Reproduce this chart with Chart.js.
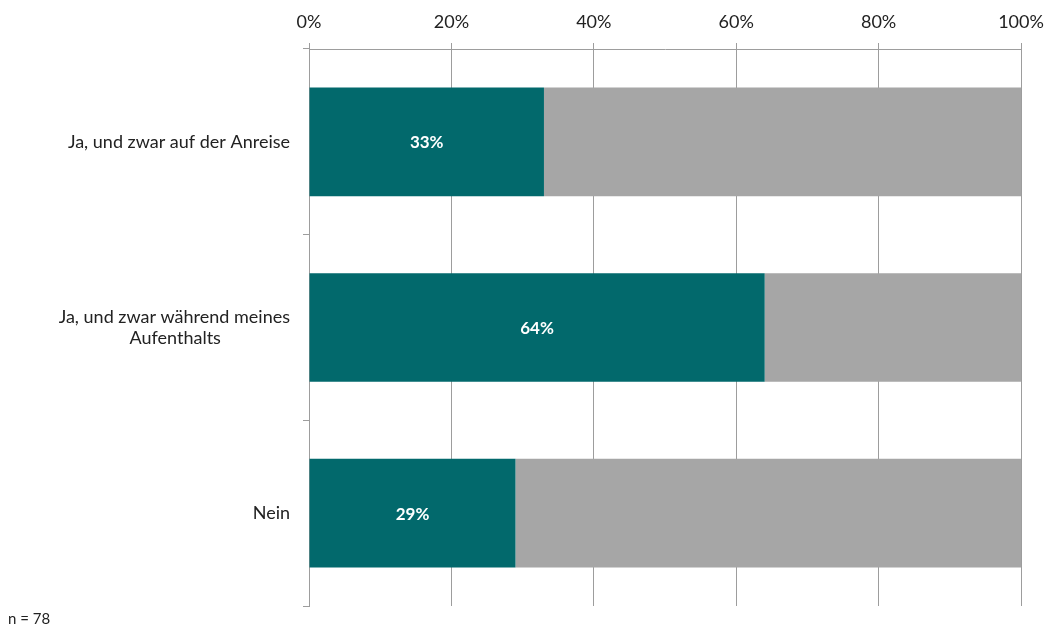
<!DOCTYPE html>
<html>
<head>
<meta charset="utf-8">
<script src="https://cdn.jsdelivr.net/npm/chart.js@4/dist/chart.umd.min.js"></script>
<style>
  html, body { margin: 0; padding: 0; background: #fff; overflow: hidden; }
  #wrap { width: 1044px; height: 631px; position: relative; }
</style>
</head>
<body>
<div id="wrap"><canvas id="c"></canvas></div>
<script>
// answers (two-line label as array)
const categories = [
  "Ja, und zwar auf der Anreise",
  ["Ja, und zwar während meines", "Aufenthalts"],
  "Nein",
];
const yesShare = [33, 64, 29];          // teal, labelled
const restShare = [67, 36, 71];         // grey remainder
const xTicks = [0, 20, 40, 60, 80, 100];
const note = "n = 78";

const TEAL = "#02696c", GREY = "#a6a6a6", GRID = "#9d9d9d";
const FONT = "Lato, 'Open Sans', sans-serif";
const LBL_SIZE = 18;

// y labels are right-aligned by Chart.js; the 2nd line of a wrapped label is
// centred under the first in the original, so pad it with trailing nbsp's
const mctx = document.createElement("canvas").getContext("2d");
mctx.font = LBL_SIZE + "px " + FONT;
const yLabels = categories.map(c => {
  if (!Array.isArray(c)) return c;
  const w0 = mctx.measureText(c[0]).width;
  const sp = mctx.measureText("\u00a0").width || 4;
  return c.map((line, i) => {
    if (i === 0) return line;
    const n = Math.round((w0 - mctx.measureText(line).width) / 2 / sp);
    return line + "\u00a0".repeat(Math.max(0, n));
  });
});

// white % labels in the middle of the teal bars
const barLabels = {
  id: "barLabels",
  afterDatasetsDraw(chart) {
    const ctx = chart.ctx;
    const meta = chart.getDatasetMeta(0);
    ctx.save();
    ctx.fillStyle = "#fff";
    ctx.font = "bold 17px " + FONT;
    ctx.textAlign = "center";
    ctx.textBaseline = "middle";
    meta.data.forEach((bar, i) => {
      const p = bar.getProps(["x", "y", "base"], true);
      ctx.fillText(yesShare[i] + "%", (p.x + p.base) / 2, p.y + 1);
    });
    ctx.restore();
  },
};

new Chart(document.getElementById("c"), {
  type: "bar",
  data: {
    labels: yLabels,
    datasets: [
      { data: yesShare, backgroundColor: TEAL, barPercentage: 0.585, categoryPercentage: 1 },
      { data: restShare, backgroundColor: GREY, barPercentage: 0.585, categoryPercentage: 1 },
    ],
  },
  options: {
    indexAxis: "y",
    responsive: true, maintainAspectRatio: false, animation: false,
    layout: { padding: { top: 8, right: 23, left: 8, bottom: 3 } },
    plugins: {
      legend: { display: false },
      tooltip: { enabled: false },
      title: {
        display: true, text: note, position: "bottom", align: "start",
        color: "#222", font: { family: FONT, size: 15, weight: "normal" },
        padding: { top: 4, bottom: 0 },
      },
    },
    scales: {
      x: {
        position: "top", stacked: true, min: 0, max: 100,
        afterBuildTicks(s) { s.ticks = xTicks.map(v => ({ value: v })); },
        afterFit(s) { s.height = 41; s.paddingLeft = 0; s.paddingRight = 0; },
        ticks: { callback: v => v + "%", color: "#222", padding: 10,
                 font: { family: FONT, size: LBL_SIZE } },
        grid: { color: GRID, tickLength: 6, lineWidth: 1 },
        border: { color: GRID },
      },
      y: {
        stacked: true,
        afterFit(s) { s.width = 301; },
        ticks: { color: "#222", padding: 13, font: { family: FONT, size: LBL_SIZE } },
        grid: { color: GRID, drawOnChartArea: false, tickLength: 6, offset: true },
        border: { color: GRID },
      },
    },
  },
  plugins: [barLabels],
});
</script>
</body>
</html>
